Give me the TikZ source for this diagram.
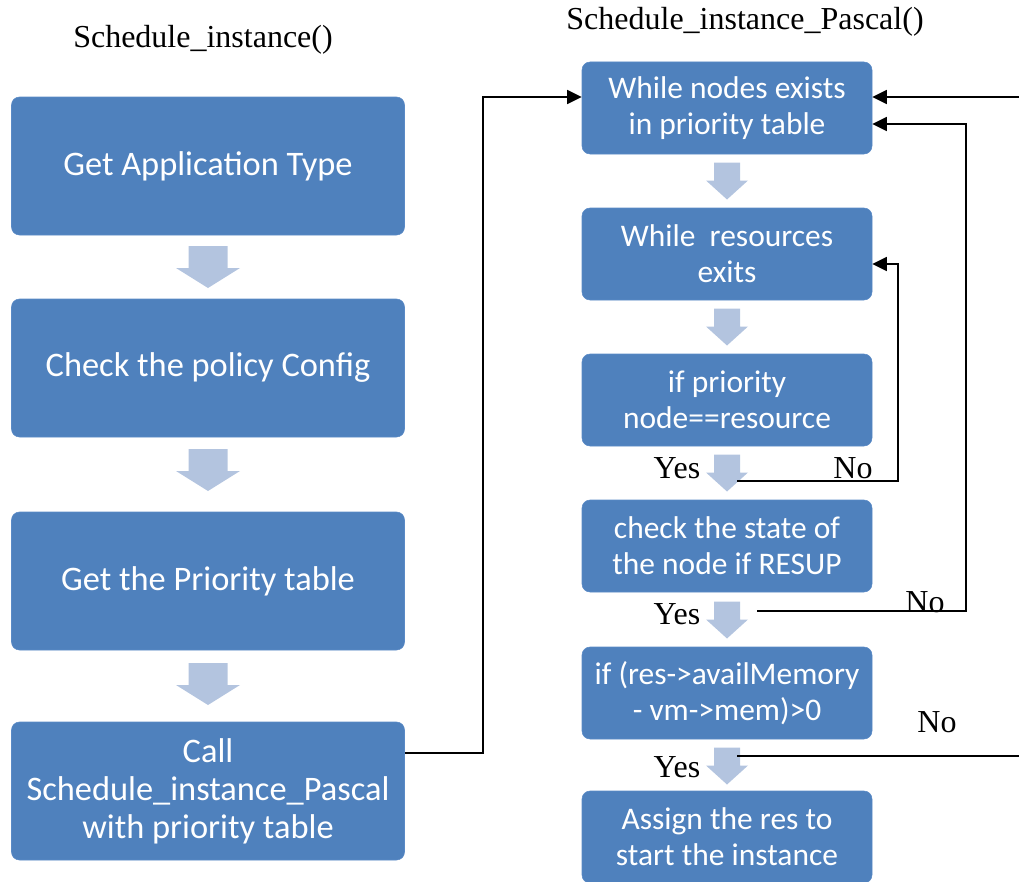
\documentclass[tikz,border=0pt]{standalone}
\usepackage{fontspec}
\setmainfont{Liberation Serif}
\newfontfamily\calib{Carlito}
\usepackage{xcolor}
\usetikzlibrary{arrows.meta,calc}

\definecolor{boxblue}{HTML}{4F81BD}
\definecolor{boxedge}{HTML}{5A8AC6}
\definecolor{arrblue}{HTML}{B3C4DF}

\begin{document}
\begin{tikzpicture}[
  x=0.75pt, y=-0.75pt,
  >={Triangle[length=11pt, width=10.5pt]},
  lbox/.style={draw=boxedge, fill=boxblue, rounded corners=6pt, align=center, text=white,
    minimum width=294.75pt, minimum height=103.5pt, inner sep=2pt,
    font=\calib\fontsize{25.8pt}{28.5pt}\selectfont},
  rbox/.style={lbox, minimum width=217.5pt, minimum height=69pt,
    font=\calib\fontsize{23.6pt}{27pt}\selectfont},
  bigdown/.pic={\fill[arrblue] (-19.5,-21) -- (19.5,-21) -- (19.5,1) -- (32,1) -- (0,21)
    -- (-32,1) -- (-19.5,1) -- cycle;},
  smalldown/.pic={\fill[arrblue] (-13,-18.5) -- (13,-18.5) -- (13,-0.5) -- (21,-0.5) -- (0,18.5)
    -- (-21,-0.5) -- (-13,-0.5) -- cycle;},
  lbl/.style={font=\fontsize{24pt}{26pt}\selectfont, inner sep=0pt},
  ar/.style={->, line width=1.3pt},
]
\useasboundingbox (0,0) rectangle (1019,881);

% titles
\node[lbl] (t1) at (203,40) {Schedule\_instance()};
\node[lbl] (t2) at (745,22) {Schedule\_instance\_Pascal()};

% left column
\node[lbox] (l1) at (208,166) {Get Application Type};
\node[lbox] (l2) at (208,368) {Check the policy Config};
\node[lbox] (l3) at (208,581) {Get the Priority table};
\node[lbox] (l4) at (208,791) {Call\\Schedule\_instance\_Pascal\\with priority table};
\pic (d1) at (208,267) {bigdown};
\pic (d2) at (208,470) {bigdown};
\pic (d3) at (208,684) {bigdown};

% right column
\node[rbox] (rA) at (727,108) {While nodes exists\\in priority table};
\node[rbox] (rB) at (727,254) {While\ \ resources\\exits};
\node[rbox] (rC) at (727,400) {if priority\\node==resource};
\node[rbox] (rD) at (727,546) {check the state of\\the node if RESUP};
\node[rbox] (rE) at (727,693) {if (res->availMemory\\- vm->mem)>0};
\node[rbox] (rF) at (727,837) {Assign the res to\\start the instance};
\pic (s1) at (727,181) {smalldown};
\pic (s2) at (727,327) {smalldown};
\pic (s3) at (727,473) {smalldown};
\pic (s4) at (727,620) {smalldown};
\pic (s5) at (727,766) {smalldown};

% labels
\node[lbl] (y1) at (677,468) {Yes};
\node[lbl] (n1) at (853,468) {No};
\node[lbl] (y2) at (677,614) {Yes};
\node[lbl] (n2) at (925,602) {No};
\node[lbl] (n3) at (937,722) {No};
\node[lbl] (y3) at (677,767) {Yes};

% loop points
\coordinate (c1) at (737,481);
\coordinate (oc) at (898,481);
\coordinate (c2) at (757,611);
\coordinate (od) at (966,611);
\coordinate (c3) at (737,756);
\coordinate (oe) at (1023,97);

\draw[ar] ([yshift=28.5pt]l4.east) -- ++(78,0) |- ([yshift=8.25pt]rA.west);
\draw[ar] (c1) -- (oc) |- ([yshift=-7.5pt]rB.east);
\draw[ar] (c2) -- (od) |- ([yshift=-12pt]rA.east);
\draw[ar] (c3) -| (oe) -- ([yshift=8.25pt]rA.east);
\end{tikzpicture}
\end{document}
